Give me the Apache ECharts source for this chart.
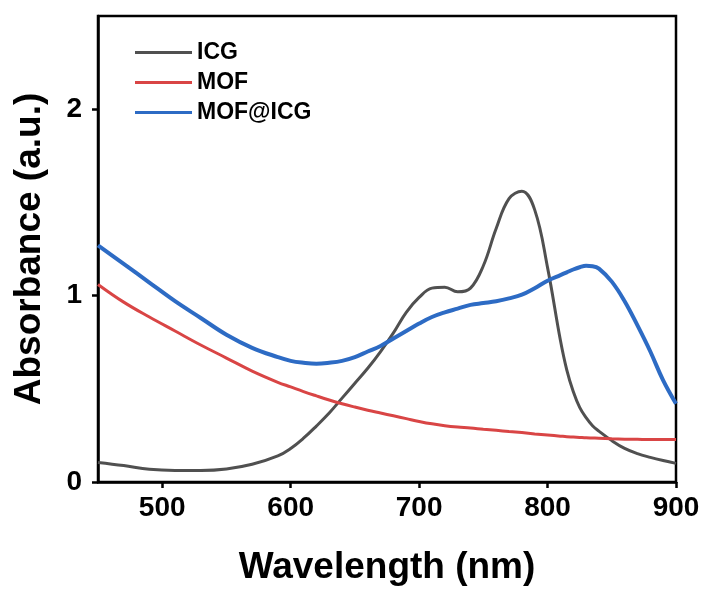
<!DOCTYPE html>
<html>
<head>
<meta charset="utf-8">
<script src="https://cdn.jsdelivr.net/npm/echarts@6/dist/echarts.min.js"></script>
<style>
html,body{margin:0;padding:0;background:#fff;}
#chart{width:707px;height:592px;}
</style>
</head>
<body>
<div id="chart"></div>
<script>
const wavelengths = [450,470,490,510,530,550,570,590,600,610,620,630,640,650,660,670,680,690,700,710,720,730,740,750,760,770,780,790,800,810,815,820,825,830,835,840,850,860,870,880,890,900];
const icg = [0.105,0.088,0.068,0.062,0.062,0.070,0.095,0.140,0.180,0.235,0.300,0.370,0.450,0.530,0.610,0.700,0.800,0.910,0.990,1.040,1.045,1.020,1.040,1.160,1.360,1.520,1.560,1.460,1.150,0.760,0.600,0.485,0.400,0.345,0.302,0.273,0.222,0.180,0.152,0.132,0.115,0.100];
const mof = [1.060,0.965,0.885,0.810,0.735,0.665,0.595,0.535,0.510,0.485,0.462,0.440,0.420,0.402,0.385,0.370,0.355,0.340,0.325,0.312,0.302,0.295,0.290,0.283,0.277,0.271,0.265,0.258,0.252,0.246,0.243,0.241,0.239,0.237,0.236,0.235,0.232,0.230,0.229,0.228,0.228,0.228];
const mofIcg = [1.270,1.170,1.070,0.970,0.880,0.790,0.720,0.670,0.650,0.640,0.635,0.640,0.650,0.670,0.700,0.730,0.770,0.810,0.850,0.885,0.910,0.930,0.950,0.960,0.970,0.985,1.005,1.040,1.080,1.110,1.125,1.140,1.152,1.160,1.158,1.145,1.075,0.970,0.840,0.700,0.545,0.420];
const seriesNames = ['ICG','MOF','MOF@ICG'];
const seriesColors = ['#505050','#d94545','#2d6bc4'];
const xTicks = [500,600,700,800,900];
const yTicks = [0,1,2];

const font = 'Liberation Sans, Arial, sans-serif';
function pairs(xs, ys){ return xs.map((x,i)=>[x, ys[i]]); }
const values = [icg, mof, mofIcg];
const widths = [3,3,4];

const chart = echarts.init(document.getElementById('chart'), null, {renderer:'canvas'});
chart.setOption({
  animation:false,
  backgroundColor:'#fff',
  grid:{left:98, right:31, top:16, bottom:110, show:true, borderColor:'#000', borderWidth:2.5, backgroundColor:'transparent'},
  legend:{
    left:130, top:36, orient:'vertical', itemWidth:57, itemHeight:3, itemGap:7,
    textStyle:{fontFamily:font, fontWeight:'bold', fontSize:23, color:'#000'},
    data:seriesNames.map(n=>({name:n, icon:'rect'}))
  },
  xAxis:{
    type:'value', min:450, max:900,
    name:'Wavelength (nm)', nameLocation:'middle', nameGap:67,
    nameTextStyle:{fontFamily:font, fontWeight:'bold', fontSize:37, color:'#000'},
    axisLine:{show:true, onZero:false, lineStyle:{color:'#000', width:2.5}},
    axisTick:{show:true, length:6, lineStyle:{color:'#000', width:2.5}, customValues:xTicks},
    axisLabel:{customValues:xTicks, margin:12, fontFamily:font, fontWeight:'bold', fontSize:28, color:'#000'},
    splitLine:{show:false}
  },
  yAxis:{
    type:'value', min:0, max:2.5,
    name:'Absorbance (a.u.)', nameLocation:'middle', nameGap:50,
    nameTextStyle:{fontFamily:font, fontWeight:'bold', fontSize:37, color:'#000'},
    axisLine:{show:true, onZero:false, lineStyle:{color:'#000', width:2.5}},
    axisTick:{show:true, length:6, lineStyle:{color:'#000', width:2.5}, customValues:yTicks},
    axisLabel:{customValues:yTicks, margin:16, fontFamily:font, fontWeight:'bold', fontSize:28, color:'#000'},
    splitLine:{show:false}
  },
  series: seriesNames.map((n,i)=>({
    name:n, type:'line', smooth:0.4, showSymbol:false, symbol:'none',
    data:pairs(wavelengths, values[i]),
    itemStyle:{color:seriesColors[i]},
    lineStyle:{color:seriesColors[i], width:widths[i]},
    z: i===2 ? 3 : 2
  }))
});
</script>
</body>
</html>
